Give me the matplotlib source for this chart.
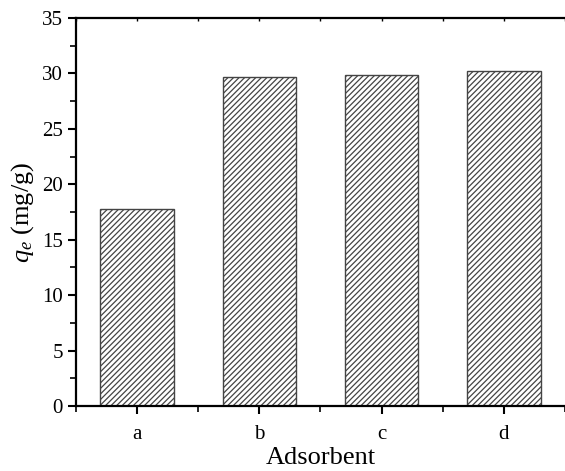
import matplotlib.pyplot as plt
from matplotlib.ticker import AutoMinorLocator, MultipleLocator

# data
adsorbents = ['a', 'b', 'c', 'd']
qe_values = [17.8, 29.7, 29.9, 30.25]

plt.rcParams['font.family'] = ['Liberation Serif', 'DejaVu Serif']
plt.rcParams['mathtext.fontset'] = 'custom'
plt.rcParams['mathtext.it'] = 'Liberation Serif:italic'
plt.rcParams['mathtext.rm'] = 'Liberation Serif'
plt.rcParams['hatch.linewidth'] = 0.9

fig = plt.figure(figsize=(5.65, 4.71), dpi=100)
ax = fig.add_axes([0.1345, 0.138, 0.8655, 0.8238])

x = range(len(adsorbents))
ax.bar(x, qe_values, width=0.6, color='white', edgecolor='#444444',
       linewidth=1.0, hatch='//////')

ax.set_xlim(-0.5, 3.5)
ax.set_ylim(0, 35)
ax.set_xticks(list(x))
ax.set_xticklabels(adsorbents)
ax.xaxis.set_minor_locator(MultipleLocator(0.5))
ax.yaxis.set_major_locator(MultipleLocator(5))
ax.yaxis.set_minor_locator(AutoMinorLocator(2))

ax.spines['right'].set_visible(False)
for s in ['left', 'bottom', 'top']:
    ax.spines[s].set_linewidth(1.6)

ax.tick_params(axis='both', which='major', direction='out', length=6, width=1.5, labelsize=15)
ax.tick_params(axis='both', which='minor', direction='out', length=4, width=1.2)
ax.tick_params(axis='x', which='major', pad=8)

# small inward ticks on the top edge
top = ax.secondary_xaxis('top')
top.set_xticks(list(x))
top.xaxis.set_minor_locator(MultipleLocator(0.5))
top.tick_params(which='both', direction='in', length=2, width=1.0, labeltop=False)
top.spines['top'].set_visible(False)

ax.set_xlabel('Adsorbent', fontsize=19, labelpad=2)
ax.set_ylabel('$q_e$ (mg/g)', fontsize=19, labelpad=4)

fig.savefig('out.png', dpi=100)
